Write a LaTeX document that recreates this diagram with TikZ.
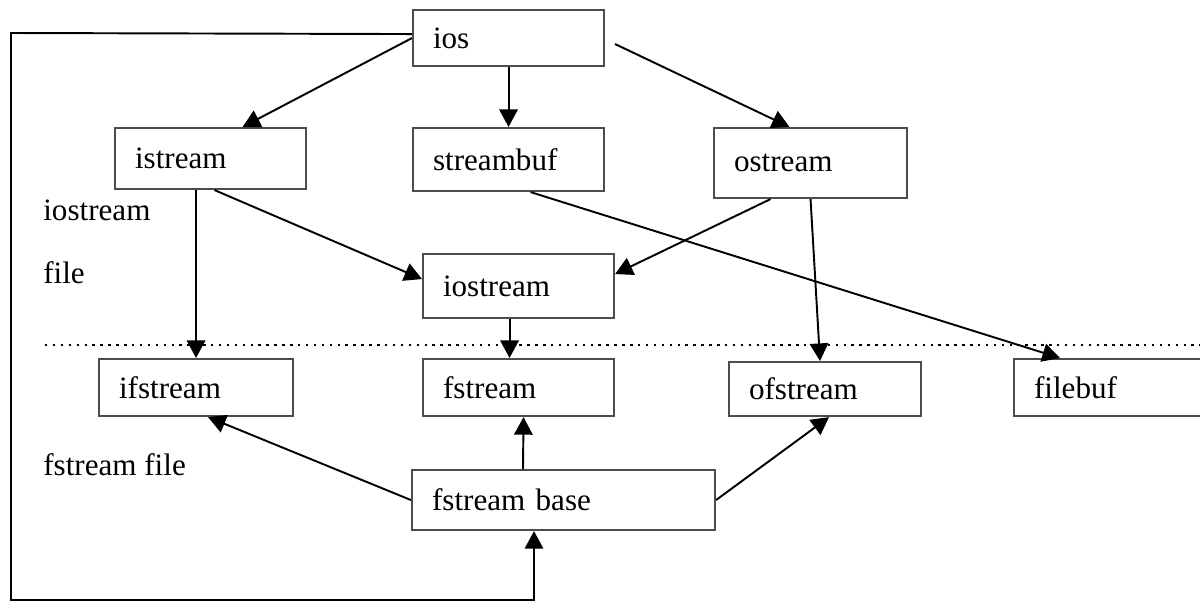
\documentclass[tikz,border=0pt]{standalone}
\usepackage{fontspec}
\setmainfont{Liberation Serif}
\usepackage{tikz}
\usetikzlibrary{positioning,calc,arrows.meta}

\begin{document}
\begin{tikzpicture}[x=0.02cm, y=-0.02cm,
    box/.style={draw=black!70, line width=1.2pt, anchor=north west, align=left,
        text width=3.02cm, inner xsep=0.4cm, inner ysep=0pt,
        font=\fontsize{17.7}{21}\selectfont},
    lbl/.style={anchor=west, inner sep=0pt, font=\fontsize{17.7}{21}\selectfont},
    arr/.style={line width=1.1pt, -{Triangle[length=10pt, width=10.5pt]}}]
    \useasboundingbox (0,0) rectangle (1200,602);

    % classes
    \node[box, minimum height=1.12cm] (ios) at (412,9) {ios};
    \node[box, minimum height=1.22cm] (istream) at (114,127) {istream};
    \node[box, minimum height=1.26cm] (streambuf) at (412,127) {streambuf};
    \node[box, text width=3.06cm, minimum height=1.4cm] (ostream) at (713,127) {ostream};
    \node[box, minimum height=1.28cm] (iostream) at (422,253) {iostream};
    \node[box, text width=3.08cm, minimum height=1.14cm] (ifstream) at (98,358) {ifstream};
    \node[box, minimum height=1.14cm] (fstream) at (422,358) {fstream};
    \node[box, text width=3.04cm, minimum height=1.08cm] (ofstream) at (728,361) {ofstream};
    \node[box, text width=3.4cm, minimum height=1.14cm] (filebuf) at (1013,358) {filebuf};
    \node[box, text width=5.26cm, minimum height=1.2cm] (fbase) at (411,469) {fstream base};

    % header names
    \node[lbl] (lhead) at (43,210) {iostream};
    \node[lbl] (lfile) at (43,273) {file};
    \node[lbl] (lfhead) at (43,465) {fstream file};

    \coordinate (sepL) at (45,345);
    \coordinate (sepR) at (1200,345);
    \draw[line width=1.5pt, dash pattern=on 1.4pt off 3.1pt] (sepL) -- (sepR);

    % inheritance
    \draw[arr] (ios.west) -- ($(istream.north)+(32,0)$);
    \draw[arr] (ios.south) -- (streambuf.north);
    \draw[arr] ($(ios.east)+(10,6)$) -- ($(ostream.north)+(-21,0)$);
    \draw[arr] (istream.south -| ifstream.north) -- (ifstream.north);
    \draw[arr] ($(istream.south)+(4,0)$) -- ($(iostream.west)+(0,-7)$);
    \draw[arr] ($(ostream.south)+(-40,0)$) -- ($(iostream.east)+(0,-12)$);
    \draw[arr] (ostream.south) -- ($(ofstream.north)+(-5,0)$);
    \draw[arr] ($(streambuf.south)+(22,0)$) -- ($(filebuf.north west)+(47,0)$);
    \draw[arr] ($(iostream.south)+(-9,0)$) -- ($(fstream.north)+(-9,0)$);
    \draw[arr] (fbase.west) -- ($(ifstream.south)+(12,0)$);
    \draw[arr] ($(fbase.north west)+(112,0)$) -- ($(fstream.south)+(5,0)$);
    \draw[arr] (fbase.east) -- ($(ofstream.south)+(4,0)$);

    % ios to fstream base
    \coordinate (loopTL) at (11,33);
    \coordinate (loopBL) at (11,600);
    \draw[arr] ($(ios.west)+(0,-4)$) -- (loopTL) -- (loopBL) -| ($(fbase.south west)+(123,0)$);
\end{tikzpicture}
\end{document}
